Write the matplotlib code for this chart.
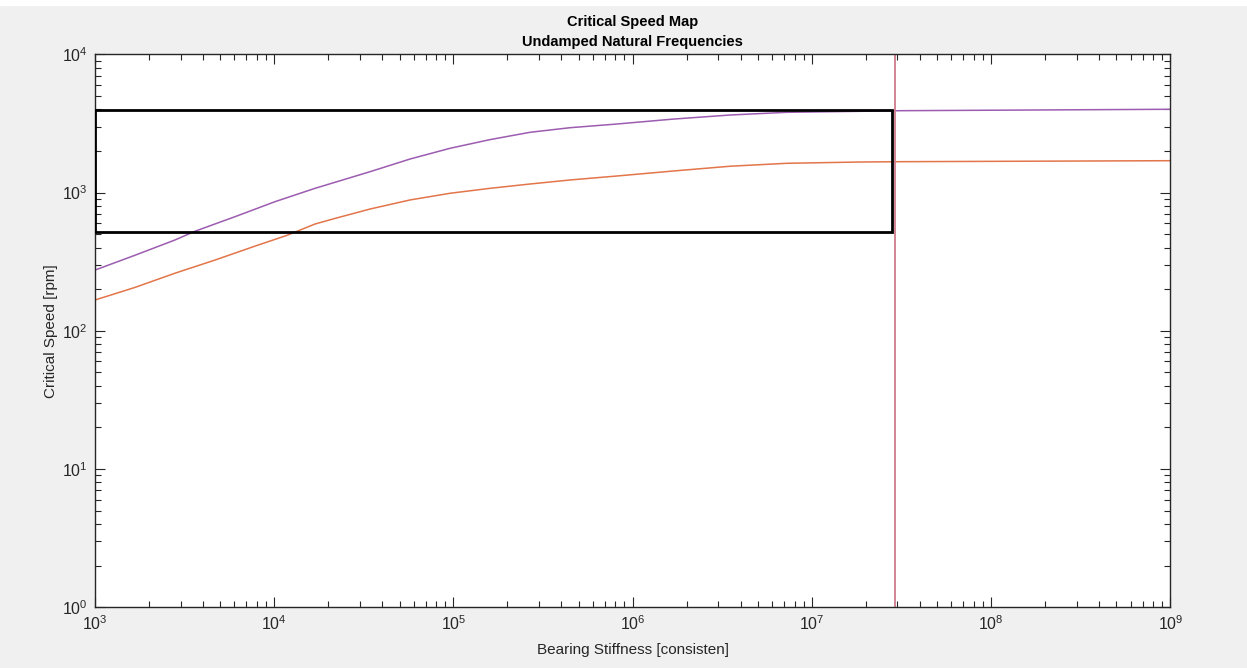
import numpy as np
import matplotlib
matplotlib.use('Agg')
import matplotlib.pyplot as plt
from matplotlib.patches import Rectangle
from matplotlib.ticker import LogLocator, NullFormatter

plt.rcParams['font.family'] = ['Liberation Sans', 'DejaVu Sans']

# bearing stiffness and the two critical speed curves
k_mode2 = [1.0e3, 1.672e3, 2.795e3, 3.614e3, 6.042e3, 1.010e4, 1.689e4, 3.423e4,
           5.726e4, 9.572e4, 1.600e5, 2.676e5, 4.474e5, 8.153e5, 1.687e6,
           3.495e6, 7.243e6, 1.858e7, 3.106e7, 1.0e9]
mode2 = [275, 352, 454, 525, 669, 859, 1073, 1415,
         1748, 2090, 2415, 2728, 2945, 3131, 3400,
         3638, 3806, 3870, 3909, 4003]

k_mode1 = [1.0e3, 1.672e3, 2.795e3, 4.676e3, 7.823e3, 1.176e4, 1.689e4, 2.184e4,
           3.423e4, 5.726e4, 9.572e4, 1.600e5, 2.676e5, 4.474e5, 8.153e5,
           1.687e6, 3.495e6, 7.243e6, 1.858e7, 3.106e7, 1.0e9]
mode1 = [167, 206, 261, 325, 410, 490, 592, 650,
         760, 884, 988, 1073, 1153, 1233, 1317,
         1432, 1550, 1628, 1663, 1672, 1700]

speed_line = 2.9e7        # vertical marker
box_x = [1.0e3, 2.8e7]    # operating box
box_y = [520, 3940]

fig = plt.figure(figsize=(12.47, 6.68), dpi=100, facecolor='#f0f0f0')
fig.patches.append(Rectangle((0, 0.992), 1, 0.008, transform=fig.transFigure,
                             color='white', zorder=0))
ax = fig.add_axes([0.0762, 0.0909, 0.8623, 0.8278])

ax.plot(k_mode2, mode2, color='#9c5cb0', lw=1.1)
ax.plot(k_mode1, mode1, color='#e2754a', lw=1.1)
ax.axvline(speed_line, color='#cf7c8c', lw=1.3)
ax.add_patch(Rectangle((box_x[0], box_y[0]), box_x[1] - box_x[0], box_y[1] - box_y[0],
                       fill=False, edgecolor='black', lw=2, zorder=3))

ax.set_xscale('log')
ax.set_yscale('log')
ax.set_xticks([1e3, 1e4, 1e5, 1e6, 1e7, 1e8, 1e9])
ax.set_yticks([1e0, 1e1, 1e2, 1e3, 1e4])
ax.xaxis.set_minor_locator(LogLocator(base=10, subs=np.arange(2, 10), numticks=20))
ax.yaxis.set_minor_locator(LogLocator(base=10, subs=np.arange(2, 10), numticks=20))
ax.xaxis.set_minor_formatter(NullFormatter())
ax.yaxis.set_minor_formatter(NullFormatter())
ax.set_xlim(1e3, 1e9)
ax.set_ylim(1e0, 1e4)

for s in ax.spines.values():
    s.set_color('#262626')
    s.set_linewidth(1.0)
ax.tick_params(which='both', direction='in', top=True, right=True, colors='#262626',
               labelsize=11.5, width=0.8)
ax.tick_params(which='major', length=7, pad=5)
ax.tick_params(which='minor', length=4)
ax.tick_params(axis='x', which='major', pad=5)

ax.set_xlabel('Bearing Stiffness [consisten]', fontsize=11, color='#262626', labelpad=7)
ax.set_ylabel('Critical Speed [rpm]', fontsize=11, color='#262626', labelpad=3)
ax.set_title('Critical Speed Map\nUndamped Natural Frequencies', fontsize=10.5,
             fontweight='bold', color='black', pad=6, linespacing=1.5)

fig.savefig('out.png', dpi=100, facecolor=fig.get_facecolor())
